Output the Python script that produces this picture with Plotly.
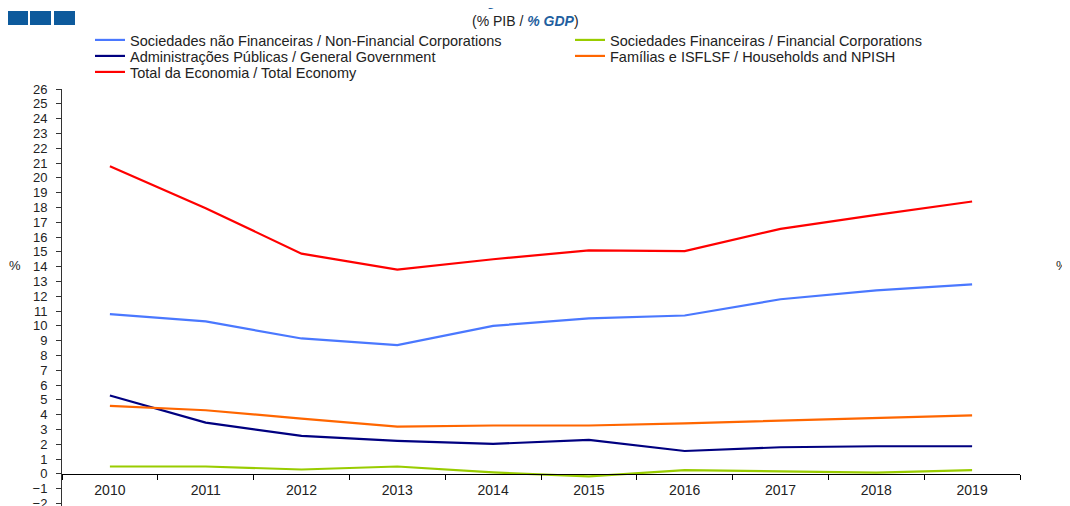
import plotly.graph_objects as go

years = ["2010", "2011", "2012", "2013", "2014", "2015", "2016", "2017", "2018", "2019"]

nfc = [10.8, 10.3, 9.15, 8.7, 10.0, 10.5, 10.7, 11.8, 12.4, 12.8]
fc = [0.5, 0.5, 0.3, 0.5, 0.1, -0.17, 0.25, 0.16, 0.09, 0.25]
gov = [5.3, 3.47, 2.57, 2.23, 2.03, 2.3, 1.55, 1.8, 1.87, 1.87]
hh = [4.6, 4.3, 3.74, 3.2, 3.27, 3.27, 3.42, 3.6, 3.8, 3.96]
total = [20.78, 17.95, 14.88, 13.8, 14.5, 15.1, 15.05, 16.55, 17.5, 18.4]

names = [
    "Sociedades não Financeiras / Non-Financial Corporations",
    "Sociedades Financeiras / Financial Corporations",
    "Administrações Públicas / General Government",
    "Famílias e ISFLSF / Households and NPISH",
    "Total da Economia / Total Economy",
]
colors = ["#4a78ff", "#99cc00", "#000080", "#ff6600", "#ff0000"]
series = [nfc, fc, gov, hh, total]

left_ticks = list(range(-2, 27))
right_ticks = list(range(0, 27))

FONT = "Liberation Sans, Arial, sans-serif"
TXT = "#222222"

# The page body keeps its default 8px margin, so the figure is drawn
# 8px smaller and all page positions are shifted by that offset.
OFF = 8
PAGE_W, PAGE_H = 1070, 506
W, H = PAGE_W - OFF, PAGE_H - OFF
PX0, PX1, PY0, PY1 = 62, 1020, 89, 506          # plot area on the page
L, R, T, B = PX0 - OFF, W - (PX1 - OFF), PY0 - OFF, H - (PY1 - OFF)
plot_w = PX1 - PX0
plot_h = PY1 - PY0


def px(x):
    return (x - PX0) / plot_w


def py(y):
    return (PY1 - y) / plot_h


yl_range = [-2.1667, 26]
yr_range = [2 + yl_range[0] * 24 / 26, 26]

# legend item positions (left x, centre y) in page pixels
leg_pos = [(90, 40), (570, 40), (90, 56), (570, 56), (90, 72)]
leg_ids = ["legend", "legend2", "legend3", "legend4", "legend5"]

fig = go.Figure()
for name, col, vals, lg in zip(names, colors, series, leg_ids):
    fig.add_trace(go.Scatter(
        x=years, y=vals, name=name, mode="lines",
        line=dict(color=col, width=2.2), legend=lg,
    ))

x_pos = (0 - yl_range[0]) / (yl_range[1] - yl_range[0])

yfont = dict(family=FONT, size=13, color=TXT)
xfont = dict(family=FONT, size=14, color=TXT)

layout_legends = {}
for lg, (lx, ly) in zip(leg_ids, leg_pos):
    layout_legends[lg] = dict(
        orientation="h", xref="container", yref="container",
        x=(lx - OFF) / W, y=1 - (ly - OFF) / H, xanchor="left", yanchor="middle",
        font=dict(family=FONT, size=14.5, color=TXT), bgcolor="rgba(0,0,0,0)",
        itemwidth=30,
    )

fig.update_layout(
    width=W, height=H,
    margin=dict(l=L, r=R, t=T, b=B, pad=0, autoexpand=False),
    paper_bgcolor="white", plot_bgcolor="white",
    font=dict(family=FONT, size=13, color=TXT),
    xaxis=dict(
        type="category", range=[-0.5, 9.5], anchor="free", position=x_pos,
        showline=True, linecolor="#000000", linewidth=1,
        ticks="outside", ticklen=5, tickcolor="#000000", tickson="boundaries",
        showgrid=False, zeroline=False, tickfont=xfont, ticklabelstandoff=3,
        automargin=False,
    ),
    yaxis=dict(
        range=yl_range, tickmode="array", tickvals=left_ticks,
        showline=True, linecolor="#333333", linewidth=1,
        ticks="outside", ticklen=5, tickcolor="#333333",
        showgrid=False, zeroline=False, tickfont=yfont,
        ticklabelstandoff=6, ticklabeloverflow="allow", automargin=False,
    ),
    yaxis2=dict(
        range=yr_range, tickmode="array", tickvals=right_ticks,
        overlaying="y", side="right", anchor="x",
        showline=True, linecolor="#333333", linewidth=1,
        ticks="outside", ticklen=5, tickcolor="#333333",
        showgrid=False, zeroline=False, tickfont=yfont,
        ticklabelstandoff=4, ticklabeloverflow="allow", automargin=False,
    ),
    yaxis3=dict(
        range=yl_range, tickmode="array", tickvals=left_ticks,
        overlaying="y", side="left", anchor="x",
        showline=False, ticks="inside", ticklen=5, tickcolor="#333333",
        showticklabels=False, showgrid=False, zeroline=False, automargin=False,
    ),
    yaxis4=dict(
        range=yr_range, tickmode="array", tickvals=right_ticks,
        overlaying="y", side="right", anchor="x",
        showline=False, ticks="inside", ticklen=5, tickcolor="#333333",
        showticklabels=False, showgrid=False, zeroline=False, automargin=False,
    ),
    showlegend=True,
    **layout_legends,
)

# Title (cut off at top in reference) and subtitle
fig.add_annotation(
    text="<b><i>Gross Investment by Institutional Sector</i></b>",
    xref="paper", yref="paper", x=px(497), y=py(11),
    xanchor="center", yanchor="bottom", showarrow=False,
    font=dict(family=FONT, size=25, color="#1f5fa0"),
)
fig.add_annotation(
    text="(% PIB / <b><i><span style='color:#1f5fa0'>% GDP</span></i></b>)",
    xref="paper", yref="paper", x=px(525), y=py(21),
    xanchor="center", yanchor="middle", showarrow=False,
    font=dict(family=FONT, size=14, color=TXT),
)
# axis unit labels
fig.add_annotation(text="%", xref="paper", yref="paper",
                   x=px(15), y=py(265),
                   xanchor="center", yanchor="middle", showarrow=False,
                   font=dict(family=FONT, size=13, color=TXT))
fig.add_annotation(text="%", xref="paper", yref="paper",
                   x=px(1062), y=py(265),
                   xanchor="center", yanchor="middle", showarrow=False,
                   font=dict(family=FONT, size=13, color=TXT))

# Logo squares
for x0, x1 in [(7, 28), (30, 51), (54, 75)]:
    fig.add_shape(type="rect", xref="paper", yref="paper",
                  x0=px(max(x0, OFF)), x1=px(x1),
                  y0=py(25), y1=py(11),
                  fillcolor="#0d5a9c", line=dict(width=0), layer="above")

fig.write_html("out.html", config={"displayModeBar": False})
